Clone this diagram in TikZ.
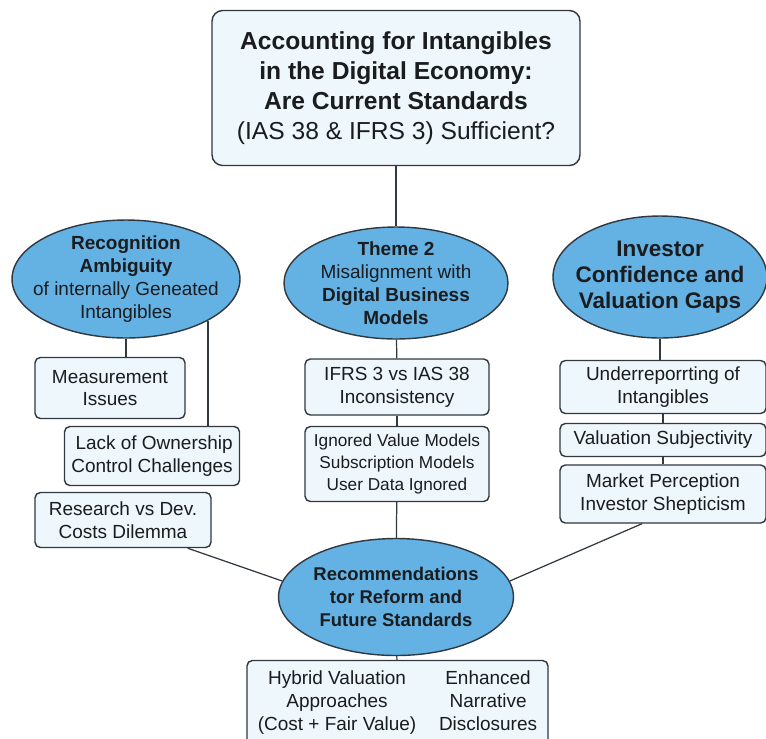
\documentclass[tikz,border=0pt]{standalone}
\usepackage{fontspec}
\setmainfont{Liberation Sans}
\usepackage{xcolor}
\usepackage{tikz}
\usetikzlibrary{shapes.geometric}

\definecolor{linegray}{RGB}{48,56,64}
\definecolor{themeblue}{RGB}{100,177,228}
\definecolor{boxblue}{RGB}{237,247,252}
\definecolor{inkblack}{RGB}{26,28,30}

\begin{document}
\begin{tikzpicture}[
  x=0.02cm, y=-0.02cm,
  font=\fontsize{10.8}{13}\selectfont, text=inkblack,
  line/.style={draw=linegray, line width=0.7pt},
  theme/.style={ellipse, draw=linegray, line width=0.8pt, fill=themeblue, inner xsep=-8pt, inner ysep=-3pt, align=center},
  box/.style={draw=linegray, line width=0.8pt, rounded corners=3pt, fill=boxblue, align=center, inner sep=0pt},
  headbox/.style={box, rounded corners=6pt, font=\fontsize{14}{17}\selectfont, minimum width=7.36cm, minimum height=3.1cm}
]
  \useasboundingbox (0,0) rectangle (766,738);
  \clip (0,0) rectangle (766,738);
  \fill[white] (0,0) rectangle (766,738);

  \node[headbox] (title) at (396,88) {\textbf{Accounting for Intangibles}\\\textbf{in the Digital Economy:}\\\textbf{Are Current Standards}\\(IAS 38 \& IFRS 3) Sufficient?};

  \node[theme, minimum width=4.56cm, minimum height=2.36cm] (recog) at (126,279) {\textbf{Recognition}\\\textbf{Ambiguity}\\of internally Geneated\\Intangibles};
  \node[theme, minimum width=4.48cm, minimum height=2.24cm] (misalign) at (396,283) {\textbf{Theme 2}\\Misalignment with\\\textbf{Digital Business}\\\textbf{Models}};
  \node[theme, minimum width=4.28cm, minimum height=2.44cm, font=\bfseries\fontsize{12.8}{15}\selectfont] (investor) at (660,277) {Investor\\Confidence and\\Valuation Gaps};
  \node[theme, minimum width=4.7cm, minimum height=2.34cm, font=\bfseries\fontsize{10.5}{13}\selectfont] (reform) at (396,597) {Recommendations\\tor Reform and\\Future Standards};

  \node[box, minimum width=3cm, minimum height=1.22cm] (measure) at (110,388) {Measurement\\Issues};
  \node[box, align=right, minimum width=3.5cm, minimum height=1.18cm] (owner) at (152,456) {Lack of Ownership\\Control Challenges};
  \node[box, minimum width=3.52cm, minimum height=1.1cm] (research) at (123,520) {Research vs Dev.\\Costs Dilemma};

  \node[box, minimum width=3.68cm, minimum height=1.12cm] (ifrs) at (397,387) {IFRS 3 vs IAS 38\\Inconsistency};
  \node[box, minimum width=3.68cm, minimum height=1.5cm, font=\fontsize{9.8}{12.5}\selectfont] (ignored) at (397,464) {Ignored Value Models\\Subscription Models\\User Data Ignored};

  \node[box, minimum width=4.12cm, minimum height=1.06cm] (under) at (663,387) {Underreporrting of\\Intangibles};
  \node[box, minimum width=4.12cm, minimum height=0.66cm] (valsub) at (663,440) {Valuation Subjectivity};
  \node[box, minimum width=4.12cm, minimum height=1.16cm] (market) at (663,494) {Market Perception\\Investor Shepticism};

  \node[box, minimum width=6.02cm, minimum height=1.7cm] (proposal) at (397.5,703) {\begin{tabular}{@{}c@{\hspace{13pt}}c@{}}Hybrid Valuation & Enhanced\\Approaches & Narrative\\(Cost + Fair Value) & Disclosures\end{tabular}};

  \draw[line] (title) -- (misalign);
  \draw[line] (recog.south) -- (recog.south |- measure.north);
  \draw[line] (recog.-27) -- (recog.-27 |- owner.north);
  \draw[line] (misalign) -- (ifrs);
  \draw[line] (ifrs) -- (ignored);
  \draw[line] (ignored) -- (reform);
  \draw[line] (investor.south) -- (investor.south |- under.north);
  \draw[line] (under) -- (valsub);
  \draw[line] (valsub) -- (market);
  \draw[line] ([xshift=-0.48cm]research.south east) -- (reform.172);
  \draw[line] ([xshift=-0.42cm]market.south) -- (reform.8);
  \draw[line] (reform) -- (proposal);
\end{tikzpicture}
\end{document}
